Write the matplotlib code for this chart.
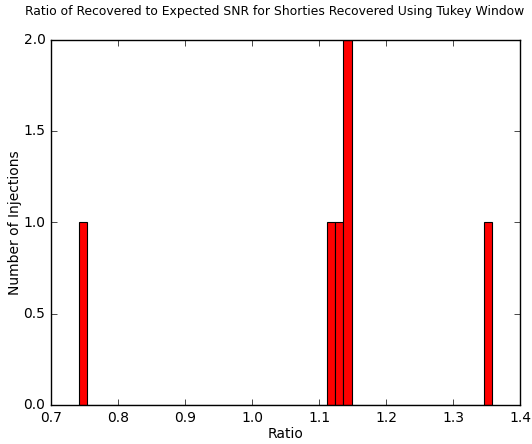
import matplotlib
matplotlib.use("Agg")
import matplotlib.pyplot as plt

# SNR ratios (one value per injection)
ratios = [0.742, 1.116, 1.129, 1.139, 1.144, 1.358]
n_bins = 50

plt.style.use('classic')
fig = plt.figure(figsize=(5.32, 4.44), dpi=100)
ax = fig.add_axes([51 / 532, 1 - 405 / 444, 469 / 532, 365 / 444])

ax.hist(ratios, bins=n_bins, color='red', edgecolor='black', linewidth=0.8)

ax.set_xlim(0.7, 1.4)
ax.set_ylim(0, 2.0)
ax.set_xticks([0.7, 0.8, 0.9, 1.0, 1.1, 1.2, 1.3, 1.4])
ax.set_yticks([0.0, 0.5, 1.0, 1.5, 2.0])
ax.tick_params(labelsize=10)
ax.set_xlabel("Ratio", fontsize=10, labelpad=2)
ax.set_ylabel("Number of Injections", fontsize=10, labelpad=1)

# title is a bit wider than the axes in the original, so place it by hand
fig.text(275 / 532, 1 - 12 / 444,
         "Ratio of Recovered to Expected SNR for Shorties Recovered Using Tukey Window",
         fontsize=8.9, ha='center', va='center')

fig.savefig("out.png", dpi=100)
